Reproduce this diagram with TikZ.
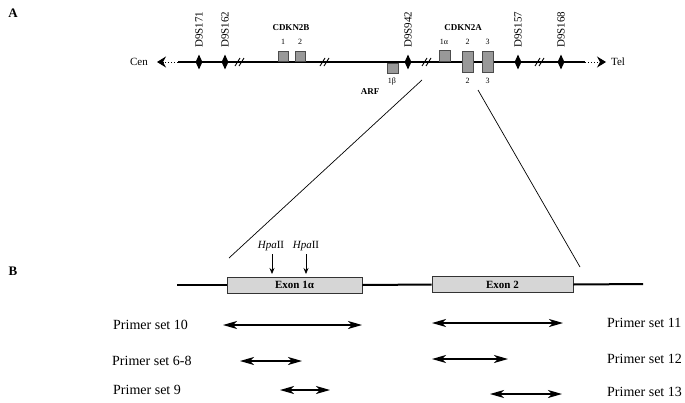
\documentclass[tikz,border=0pt]{standalone}
\usepackage{fontspec}
\setmainfont{Liberation Serif}
\usetikzlibrary{arrows.meta}
\usetikzlibrary{shapes.geometric}
\definecolor{boxgray}{rgb}{0.6,0.6,0.6}
\definecolor{exongray}{rgb}{0.84,0.84,0.84}
\tikzset{
  marker/.style={diamond,fill=black,inner sep=0pt,minimum width=7pt,minimum height=15pt},
  genebox/.style={draw=black!70,fill=boxgray,inner sep=0pt,line width=0.6pt},
  exon/.style={draw=black!80,fill=exongray,inner sep=0pt,minimum height=16pt,line width=0.7pt,font=\fontsize{11}{12}\selectfont\bfseries},
  small/.style={font=\fontsize{8}{9}\selectfont},
  genename/.style={font=\fontsize{9}{10}\selectfont\bfseries},
  primer/.style={line width=1.5pt,{Stealth[length=14pt,width=8pt,inset=4pt]}-{Stealth[length=14pt,width=8pt,inset=4pt]}},
  primerlabel/.style={anchor=west,inner sep=0pt,font=\fontsize{14}{15}\selectfont}
}
\newcommand{\drawmarker}[3]{
  \node[marker] (#1) at (#2,62) {};
  \node[rotate=90,anchor=west,inner sep=0pt,font=\fontsize{11}{12}\selectfont] at (#2,48) {#3};
}
\newcommand{\drawbreak}[1]{
  \draw[line width=0.9pt] (#1-5,66) -- (#1,58);
  \draw[line width=0.9pt] (#1-1,66) -- (#1+4,58);
}

\begin{document}
\begin{tikzpicture}[x=1pt,y=-1pt]
      \useasboundingbox (0,0) rectangle (685,402);
      \node[font=\fontsize{13}{14}\selectfont\bfseries] (labA) at (13,13) {A};
      \node[font=\fontsize{13}{14}\selectfont\bfseries] (labB) at (13,271) {B};

      % chromosome 9p21
      \coordinate (cenend) at (178,62);
      \coordinate (telend) at (585,62);
      \node[font=\fontsize{11}{12}\selectfont] (cen) at (139,62) {Cen};
      \node[font=\fontsize{11}{12}\selectfont] (tel) at (618,62) {Tel};
      \coordinate (cenarrow) at (157,62);
      \coordinate (telarrow) at (606,62);
      \draw[line width=1.6pt] (cenend) -- (telend);
      \draw[line width=1pt,dotted,-{Stealth[length=9pt,width=11pt,inset=3pt]}] (cenend) -- (cenarrow);
      \draw[line width=1pt,dotted,-{Stealth[length=9pt,width=11pt,inset=3pt]}] (telend) -- (telarrow);

      \drawmarker{m171}{199}{D9S171}
      \drawmarker{m162}{225}{D9S162}
      \drawmarker{m942}{408}{D9S942}
      \drawmarker{m157}{518}{D9S157}
      \drawmarker{m168}{561}{D9S168}
      \drawbreak{240}
      \drawbreak{325}
      \drawbreak{427}
      \drawbreak{540}

      % CDKN2B
      \node[genename] (cdkn2b) at (291,28) {CDKN2B};
      \node[genebox,minimum width=10pt,minimum height=10pt,anchor=south] (b1) at (283,61.5) {};
      \node[genebox,minimum width=10pt,minimum height=10pt,anchor=south] (b2) at (300,61.5) {};
      \node[small] at (283,42) {1};
      \node[small] at (300,42) {2};

      % ARF / CDKN2A
      \node[genebox,minimum width=11pt,minimum height=10pt,anchor=north] (b1b) at (392.5,62.5) {};
      \node[small] (l1b) at (392,82) {1β};
      \node[genename] (arf) at (370,92) {ARF};
      \node[genename] (cdkn2a) at (463,28) {CDKN2A};
      \node[genebox,minimum width=11pt,minimum height=11pt,anchor=south] (a1) at (444.5,61.5) {};
      \node[genebox,minimum width=11pt,minimum height=21pt] (a2) at (467.5,61.5) {};
      \node[genebox,minimum width=11pt,minimum height=21pt] (a3) at (487.5,61.5) {};
      \node[small] at (444,42) {1α};
      \node[small] at (467.5,42) {2};
      \node[small] at (487.5,42) {3};
      \node[small] at (467.5,81) {2};
      \node[small] at (487.5,81) {3};

      % zoom lines
      \coordinate (zl1) at (422,80);
      \coordinate (zl2) at (229,258);
      \coordinate (zr1) at (478,90);
      \coordinate (zr2) at (580,267);
      \draw[line width=0.7pt] (zl1) -- (zl2);
      \draw[line width=0.7pt] (zr1) -- (zr2);

      % exon 1 alpha and exon 2
      \node[exon,minimum width=135pt] (ex1) at (294.5,285) {Exon 1α};
      \node[exon,minimum width=141pt] (ex2) at (502.5,284.5) {Exon 2};
      \coordinate (gl) at (177,285);
      \coordinate (gr) at (643,284);
      \draw[line width=2pt] (gl) -- (ex1.west);
      \draw[line width=2pt] (ex1.east) -- (ex2.west);
      \draw[line width=2pt] (ex2.east) -- (gr);

      \node[font=\fontsize{11}{12}\selectfont] (hpa1) at (271,246) {\textit{Hpa}II};
      \node[font=\fontsize{11}{12}\selectfont] (hpa2) at (306,246) {\textit{Hpa}II};
      \coordinate (cut1) at (272,274);
      \coordinate (cut2) at (306,274);
      \draw[line width=0.7pt,-{Stealth[length=6pt,width=5pt]}] (hpa1.south -| cut1) -- (cut1);
      \draw[line width=0.7pt,-{Stealth[length=6pt,width=5pt]}] (hpa2.south -| cut2) -- (cut2);

      % primer sets
      \node[primerlabel] (ps10) at (113,325) {Primer set 10};
      \node[primerlabel] (ps68) at (112,361) {Primer set 6-8};
      \node[primerlabel] (ps9) at (113,390) {Primer set 9};
      \node[primerlabel] (ps11) at (607,323) {Primer set 11};
      \node[primerlabel] (ps12) at (607,359) {Primer set 12};
      \node[primerlabel] (ps13) at (607,392) {Primer set 13};
      \coordinate (p10a) at (223,325);  \coordinate (p10b) at (362,325);
      \coordinate (p68a) at (240,361);  \coordinate (p68b) at (302,361);
      \coordinate (p9a) at (280,390);   \coordinate (p9b) at (330,390);
      \coordinate (p11a) at (432,323);  \coordinate (p11b) at (563,323);
      \coordinate (p12a) at (432,359);  \coordinate (p12b) at (508,359);
      \coordinate (p13a) at (490,394);  \coordinate (p13b) at (562,394);
      \draw[primer] (p10a) -- (p10b);
      \draw[primer] (p68a) -- (p68b);
      \draw[primer] (p9a) -- (p9b);
      \draw[primer] (p11a) -- (p11b);
      \draw[primer] (p12a) -- (p12b);
      \draw[primer] (p13a) -- (p13b);
\end{tikzpicture}
\end{document}
